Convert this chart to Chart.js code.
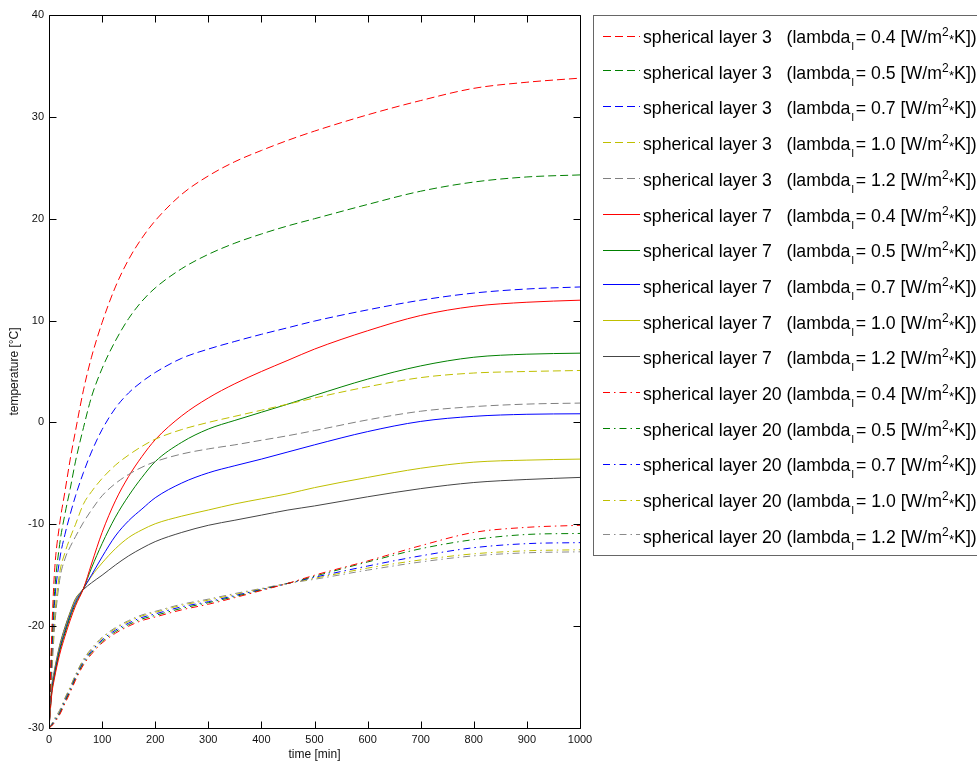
<!DOCTYPE html>
<html><head><meta charset="utf-8">
<script src="https://cdn.jsdelivr.net/npm/chart.js@4/dist/chart.umd.min.js"></script>
<style>html,body{margin:0;padding:0;background:#fff;}canvas{display:block;}</style>
</head><body>
<canvas id="c" width="977" height="765"></canvas>
<script>
// ---------------- data ----------------
const time = [0,5,10,20,30,40,50,65,80,100,125,150,175,200,250,300,350,400,450,500,600,700,800,900,1000];
const xTicks = [0,100,200,300,400,500,600,700,800,900,1000];
const yTicks = [-30,-20,-10,0,10,20,30,40];
const layers = ['3','7','20'];
const lambdas = ['0.4','0.5','0.7','1.0','1.2'];

// spherical layer 3 (dashed)
const l3_04 = [-30,-21,-15,-10,-6.8,-3.6,-0.8,3.2,6.4,9.8,13.3,16.0,18.1,19.8,22.4,24.2,25.6,26.7,27.7,28.6,30.2,31.6,32.8,33.4,33.8];
const l3_05 = [-30,-22,-17,-12,-9,-6.5,-3.8,-0.5,2.5,5.3,8.0,10.2,11.9,13.2,15.1,16.5,17.6,18.5,19.3,20.0,21.4,22.7,23.6,24.1,24.3];
const l3_07 = [-30,-23,-18,-13.5,-11,-9,-7.2,-4.9,-2.9,-0.7,1.4,2.9,4.0,4.9,6.3,7.2,7.95,8.65,9.3,9.95,11.05,12.0,12.7,13.1,13.3];
const l3_10 = [-30,-24,-19.5,-14.8,-12.8,-11.3,-10,-8.0,-6.8,-5.5,-4.2,-3.2,-2.35,-1.65,-0.7,0.0,0.6,1.2,1.8,2.4,3.5,4.4,4.85,5.0,5.1];
const l3_12 = [-30,-25,-20.5,-15.5,-13.4,-12.2,-11.2,-9.8,-8.6,-7.2,-6.0,-5.1,-4.4,-3.85,-3.1,-2.6,-2.2,-1.75,-1.3,-0.8,0.25,1.1,1.55,1.8,1.9];
// spherical layer 7 (solid)
const l7_04 = [-30,-26.8,-25.2,-22.8,-21.0,-19.4,-18.0,-16.3,-13.9,-10.8,-7.7,-5.3,-3.35,-1.7,0.65,2.4,3.8,5.0,6.1,7.2,9.0,10.5,11.4,11.8,12.0];
const l7_05 = [-30,-26.6,-25.0,-22.5,-20.7,-19.1,-17.8,-16.3,-14.3,-11.9,-9.3,-7.2,-5.4,-3.85,-1.95,-0.65,0.2,1.0,1.8,2.65,4.25,5.55,6.4,6.7,6.8];
const l7_07 = [-30,-26.4,-24.8,-22.3,-20.5,-18.9,-17.6,-16.3,-15.0,-13.2,-11.15,-9.65,-8.5,-7.4,-5.95,-4.95,-4.25,-3.6,-2.9,-2.2,-0.9,0.1,0.6,0.8,0.85];
const l7_10 = [-30,-26.2,-24.6,-22.1,-20.3,-18.7,-17.4,-16.3,-15.1,-13.8,-12.4,-11.3,-10.55,-9.95,-9.2,-8.6,-8.0,-7.5,-7.0,-6.4,-5.4,-4.5,-3.9,-3.7,-3.6];
const l7_12 = [-30,-26.0,-24.4,-21.9,-20.1,-18.6,-17.3,-16.4,-15.75,-15.0,-14.0,-13.1,-12.35,-11.7,-10.8,-10.1,-9.6,-9.1,-8.6,-8.2,-7.3,-6.5,-5.9,-5.6,-5.4];
// spherical layer 20 (dash-dot)
const l20_04 = [-30,-29.8,-29.5,-28.7,-27.6,-26.5,-25.3,-23.8,-22.75,-21.65,-20.7,-20.0,-19.45,-19.1,-18.4,-17.85,-17.2,-16.5,-15.8,-15.0,-13.6,-12.1,-10.8,-10.3,-10.1];
const l20_05 = [-30,-29.75,-29.4,-28.6,-27.45,-26.35,-25.15,-23.65,-22.6,-21.5,-20.55,-19.85,-19.3,-18.95,-18.25,-17.7,-17.1,-16.45,-15.8,-15.1,-13.7,-12.4,-11.5,-11.0,-10.9];
const l20_07 = [-30,-29.7,-29.3,-28.5,-27.3,-26.2,-25.0,-23.5,-22.45,-21.35,-20.4,-19.7,-19.15,-18.8,-18.1,-17.6,-17.0,-16.4,-15.8,-15.2,-14.1,-13.1,-12.3,-11.9,-11.8];
const l20_10 = [-30,-29.65,-29.2,-28.4,-27.15,-26.05,-24.85,-23.35,-22.3,-21.2,-20.25,-19.55,-19.0,-18.65,-17.95,-17.45,-16.9,-16.35,-15.8,-15.3,-14.3,-13.5,-12.9,-12.6,-12.5];
const l20_12 = [-30,-29.6,-29.1,-28.25,-27.05,-25.95,-24.75,-23.25,-22.2,-21.1,-20.15,-19.45,-18.9,-18.55,-17.85,-17.35,-16.8,-16.3,-15.8,-15.4,-14.5,-13.7,-13.1,-12.8,-12.7];

const seriesByLayer = [
  [l3_04,l3_05,l3_07,l3_10,l3_12],
  [l7_04,l7_05,l7_07,l7_10,l7_12],
  [l20_04,l20_05,l20_07,l20_10,l20_12]
];

// ---------------- styles ----------------
const FONT = '"Liberation Sans", Arial, Helvetica, sans-serif';
const colors = ['#ff0000','#008000','#0000ff','#bfbf00','#505050'];
const grayByLayer = ['#808080','#454545','#8a8a8a'];
const dashes = [[8,4],[],[7,4,1.5,4]];
const colorOf = (li,ci)=> ci===4 ? grayByLayer[li] : colors[ci];

const datasets = [];
layers.forEach((layer,li)=>{
  lambdas.forEach((lam,ci)=>{
    datasets.push({
      label: 'spherical layer '+layer,
      layer: layer, lambda: lam, li: li, ci: ci,
      data: time.map((t,k)=>({x:t,y:seriesByLayer[li][ci][k]})),
      borderColor: colorOf(li,ci),
      backgroundColor: colorOf(li,ci),
      borderDash: dashes[li],
      borderWidth: 1,
      pointRadius: 0,
      fill: false,
      cubicInterpolationMode: 'monotone'
    });
  });
});

const boxPlugin = {
  id:'box',
  afterDraw(chart){
    const {ctx, chartArea:a, scales:{x,y}} = chart;
    ctx.save();
    ctx.strokeStyle='#000'; ctx.lineWidth=1; ctx.setLineDash([]);
    const L=Math.round(a.left)+0.5, R=Math.round(a.right)+0.5, T=Math.round(a.top)+0.5, B=Math.round(a.bottom)+0.5;
    ctx.beginPath(); ctx.rect(L,T,R-L,B-T); ctx.stroke();
    const tl=7;
    ctx.beginPath();
    xTicks.forEach(v=>{const p=Math.round(x.getPixelForValue(v))+0.5; ctx.moveTo(p,B); ctx.lineTo(p,B-tl); ctx.moveTo(p,T); ctx.lineTo(p,T+tl);});
    yTicks.forEach(v=>{const p=Math.round(y.getPixelForValue(v))+0.5; ctx.moveTo(L,p); ctx.lineTo(L+tl,p); ctx.moveTo(R,p); ctx.lineTo(R-tl,p);});
    ctx.stroke();
    ctx.restore();
  }
};

const legendPlugin = {
  id:'mlegend',
  afterDraw(chart){
    const ctx = chart.ctx;
    ctx.save();
    ctx.strokeStyle='#666'; ctx.lineWidth=1; ctx.setLineDash([]);
    ctx.strokeRect(593.5,15.5,420,540);
    const F = 17.7;
    chart.data.datasets.forEach((ds,i)=>{
      const yc = 35 + i*35.7;
      const ly = 2*Math.round(yc/2)+0.5;
      ctx.save();
      ctx.lineWidth=1;
      ctx.strokeStyle=colorOf(ds.li,ds.ci);
      ctx.setLineDash(dashes[ds.li]);
      ctx.beginPath(); ctx.moveTo(603,ly); ctx.lineTo(640,ly); ctx.stroke();
      ctx.restore();
      const base = Math.round(yc) + 8;
      let x = 643;
      ctx.fillStyle='#000'; ctx.textAlign='left'; ctx.textBaseline='alphabetic';
      const put = (s,size,dy,extra)=>{ ctx.font = size+'px '+FONT; ctx.fillText(s,x,base+dy); x += ctx.measureText(s).width + (extra||0); };
      put(ds.label + (ds.layer.length===1?'   ':' ') + '(lambda', F, 0, 1);
      put('l', 11, 7, 2);
      put('= '+ds.lambda+' [W/m', F, 0, 0);
      put('2', 12, -7, 0.5);
      put('*', 13, 1, 0);
      put('K])', F, 0, 0);
    });
    ctx.restore();
  }
};

new Chart(document.getElementById('c'), {
  type:'line',
  data:{datasets},
  options:{
    responsive:false, animation:false, devicePixelRatio:1,
    layout:{padding:{left:0,top:15,right:397,bottom:0}},
    plugins:{legend:{display:false}, tooltip:{enabled:false}},
    scales:{
      x:{type:'linear', min:0, max:1000,
        afterBuildTicks:s=>{s.ticks=xTicks.map(v=>({value:v}));},
        ticks:{font:{size:11,family:FONT}, color:'#111', padding:5, maxRotation:0, autoSkip:false, callback:v=>String(v)},
        grid:{display:false, drawTicks:false}, border:{display:false},
        title:{display:true, text:'time [min]', font:{size:12,family:FONT}, color:'#111', padding:{top:0,bottom:3}},
        afterFit:s=>{s.height=37;}
      },
      y:{type:'linear', min:-30, max:40,
        afterBuildTicks:s=>{s.ticks=yTicks.map(v=>({value:v}));},
        ticks:{font:{size:11,family:FONT}, color:'#111', padding:5, autoSkip:false, callback:v=>String(v)},
        grid:{display:false, drawTicks:false}, border:{display:false},
        title:{display:true, text:'temperature [°C]', font:{size:12,family:FONT}, color:'#111', padding:{top:7,bottom:0}},
        afterFit:s=>{s.width=49;}
      }
    }
  },
  plugins:[boxPlugin, legendPlugin]
});
</script>
</body></html>
